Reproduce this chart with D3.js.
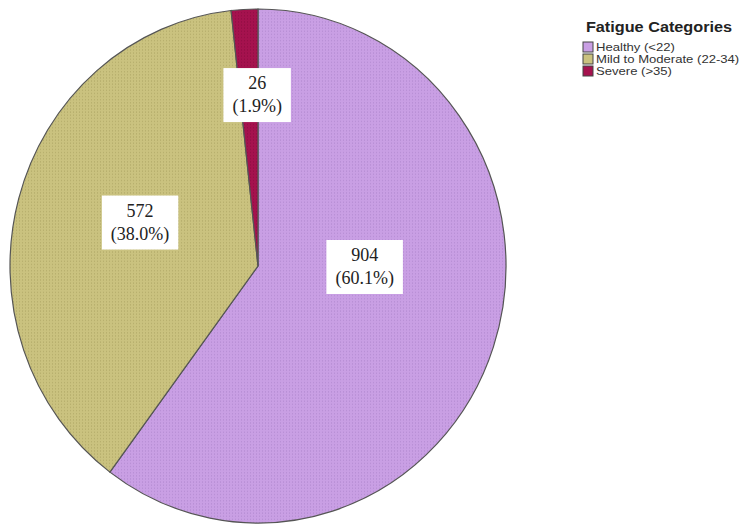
<!DOCTYPE html>
<html>
<head>
<meta charset="utf-8">
<script src="https://cdn.jsdelivr.net/npm/d3@7"></script>
<style>
  body { margin: 0; background: #fff; }
  svg { display: block; }
</style>
</head>
<body>
<svg id="chart" width="741" height="524"></svg>
<script>
// data
var categories = ['Healthy (<22)', 'Mild to Moderate (22-34)', 'Severe (>35)'];
var counts = [904, 572, 26];
var percents = ['60.1%', '38.0%', '1.9%'];
var legendTitle = 'Fatigue Categories';

var colors = ['#c99fe4', '#cac27f', '#a5124e'];
var dotColors = ['#b289cf', '#b0a866', '#8e0c40'];

var svg = d3.select('#chart');
var cx = 258, cy = 266;
var r = 248, ry = 257;   // picture is a little taller than wide

// dotted fill patterns like the SPSS output
var defs = svg.append('defs');
colors.forEach(function(c, i){
	var p = defs.append('pattern')
		.attr('id', 'pat' + i)
		.attr('width', 3).attr('height', 3)
		.attr('patternUnits', 'userSpaceOnUse');
	p.append('rect').attr('width', 3).attr('height', 3).attr('fill', c);
	p.append('rect').attr('x', 1).attr('y', 1).attr('width', 1).attr('height', 1)
		.attr('fill', dotColors[i]);
});

// Healthy runs clockwise from 12 o'clock, Severe ends back at the top
var order = [0, 1, 2];
var pie = d3.pie().sort(null).value(function(d){ return counts[d]; })
	.startAngle(0).endAngle(2 * Math.PI);
var arcs = pie(order);
var arc = d3.arc().innerRadius(0).outerRadius(r);

var g = svg.append('g')
	.attr('transform', 'translate(' + cx + ',' + cy + ') scale(1,' + (ry / r) + ')');

g.selectAll('path.slice')
	.data(arcs)
	.enter().append('path')
	.attr('class', 'slice')
	.attr('d', arc)
	.attr('fill', function(d){ return 'url(#pat' + d.data + ')'; })
	.attr('stroke', '#555')
	.attr('stroke-width', 1.2)
	.attr('vector-effect', 'non-scaling-stroke');

// label anchors: angle (deg, clockwise from top) and fraction of radius
var labelAngle = [90, 290, 359.7];
var labelRadius = [0.43, 0.506, 0.669];

var labels = svg.append('g');
order.forEach(function(i){
	var a = labelAngle[i] * Math.PI / 180;
	var x = cx + Math.sin(a) * r * labelRadius[i];
	var y = cy - Math.cos(a) * ry * labelRadius[i];
	var lg = labels.append('g').attr('transform', 'translate(' + x + ',' + y + ')');
	var box = lg.append('rect').attr('fill', '#fff');
	var t = lg.append('text')
		.attr('text-anchor', 'middle')
		.attr('font-family', 'Liberation Serif, Times New Roman, serif')
		.attr('font-size', 18)
		.attr('fill', '#222');
	t.append('tspan').attr('x', 0).attr('y', -5).text(counts[i]);
	t.append('tspan').attr('x', 0).attr('y', 18).text('(' + percents[i] + ')');
	var bb = t.node().getBBox();
	var padX = 9, padY = 5;
	box.attr('x', bb.x - padX).attr('y', bb.y - padY)
		.attr('width', bb.width + 2 * padX).attr('height', bb.height + 2 * padY);
});

// legend (text in the source is stretched sideways)
var leg = svg.append('g').attr('font-family', 'Liberation Sans, Arial, sans-serif');
leg.append('text')
	.attr('transform', 'translate(659,32) scale(1.16,1)')
	.attr('text-anchor', 'middle')
	.attr('font-size', 14)
	.attr('font-weight', 'bold')
	.attr('fill', '#222')
	.text(legendTitle);

var items = leg.selectAll('g.item')
	.data(categories)
	.enter().append('g')
	.attr('class', 'item')
	.attr('transform', function(d, i){ return 'translate(583,' + (42 + i * 12) + ')'; });
items.append('rect')
	.attr('width', 10).attr('height', 10)
	.attr('fill', function(d, i){ return colors[i]; })
	.attr('stroke', '#444').attr('stroke-width', 1);
items.append('text')
	.attr('transform', 'translate(13,9) scale(1.19,1)')
	.attr('font-size', 11)
	.attr('fill', '#333')
	.text(function(d){ return d; });
</script>
</body>
</html>
